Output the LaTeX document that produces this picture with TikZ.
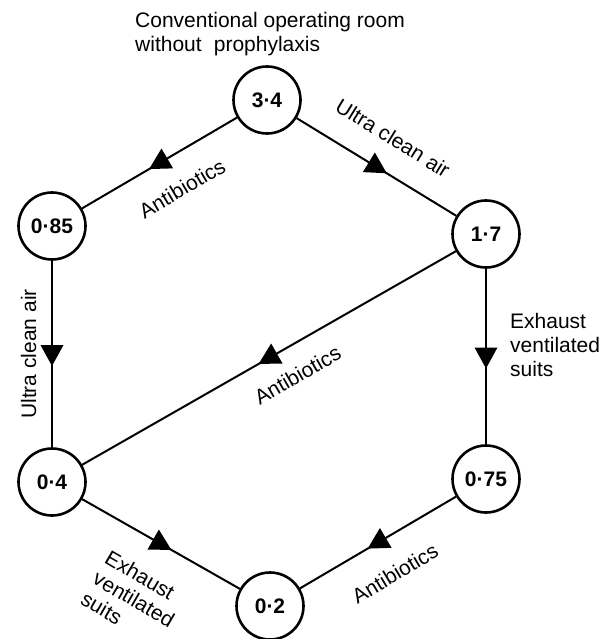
\documentclass[tikz,border=0pt]{standalone}
\usepackage{fontspec}
\setmainfont{Liberation Sans}
\usepackage{tikz}
\usetikzlibrary{decorations.markings}
\tikzset{
  val/.style={draw, circle, line width=2.6pt, minimum size=67pt, inner sep=0pt,
    font=\fontsize{21}{24}\selectfont\bfseries},
  lbl/.style={inner sep=0pt, font=\fontsize{21}{24}\selectfont},
  flow/.style={line width=2pt, postaction={decorate},
    decoration={markings, mark=at position 0.5 with {\fill (12,0) -- (-9,11.5) -- (-9,-11.5) -- cycle;}}}
}

\begin{document}
\begin{tikzpicture}[x=1pt,y=-1pt]
\useasboundingbox (0,0) rectangle (615,639);
%
\node[lbl, align=left, anchor=north west] (title) at (135,12.5) {Conventional operating room\\without\hspace{0.3em} prophylaxis};
%
\node[val] (a) at (267,100) {3·4};
\node[val] (b) at (52,226) {0·85};
\node[val] (c) at (486,234) {1·7};
\node[val] (d) at (52,482) {0·4};
\node[val] (e) at (486,479) {0·75};
\node[val] (f) at (270,606) {0·2};
%
\draw[flow] (a) -- (b);
\draw[flow] (a) -- (c);
\draw[flow] (b) -- (d);
\draw[flow] (c) -- (d);
\draw[flow] (c) -- (e);
\draw[flow] (d) -- (f);
\draw[flow] (e) -- (f);
%
\node[lbl, rotate=30.4] (ab) at (182,188.5) {Antibiotics};
\node[lbl, rotate=-31.7] (ac) at (393,138) {Ultra clean air};
\node[lbl, rotate=90] (bd) at (28.5,354) {Ultra clean air};
\node[lbl, rotate=29.9] (cd) at (297.5,375) {Antibiotics};
\node[lbl, align=left, anchor=north west] (ce) at (510,313.5) {Exhaust\\ventilated\\suits};
\node[lbl, align=left, rotate=-30.2] (df) at (134,599) {Exhaust\\ventilated\\suits};
\node[lbl, rotate=30.8] (ef) at (395,573.5) {Antibiotics};
%
\end{tikzpicture}
\end{document}
